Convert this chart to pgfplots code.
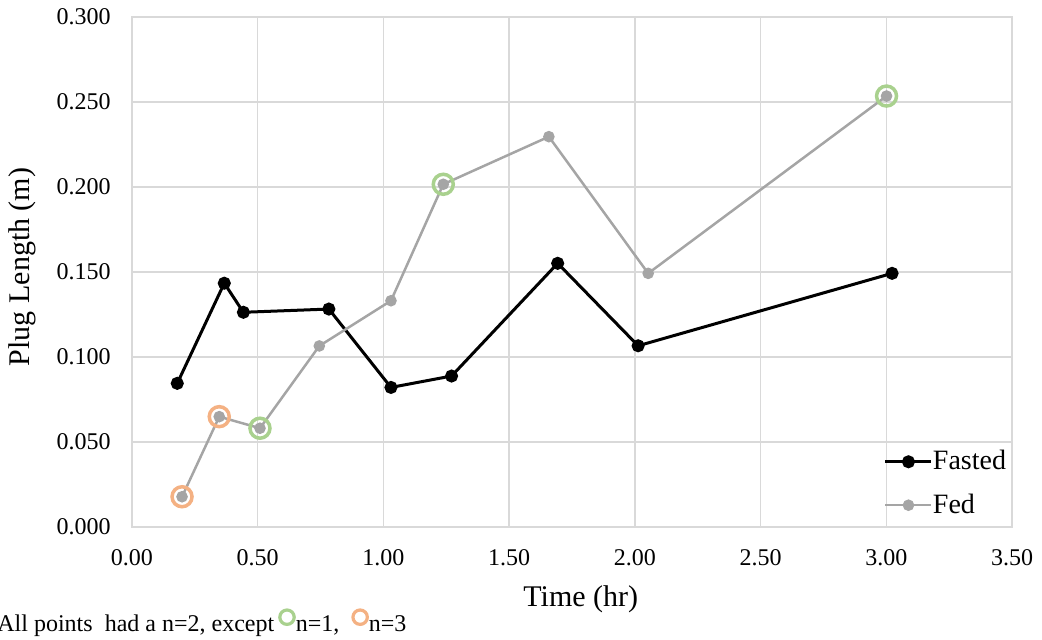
\documentclass[border=0pt]{standalone}
\usepackage{pgfplots}
\pgfplotsset{compat=1.18}
\usepackage{fontspec}
\setmainfont{Liberation Serif}

\definecolor{fedgray}{HTML}{A5A5A5}
\definecolor{gridgray}{HTML}{D9D9D9}
\definecolor{ringgreen}{HTML}{A9D18E}
\definecolor{ringorange}{HTML}{F4B183}

% small ring symbols used in the note under the chart
\newsavebox\ringgreenbox
\newsavebox\ringorangebox

\begin{document}%
\sbox\ringgreenbox{\tikz\draw[ringgreen, line width=1.6pt] (0,0) circle (3.6pt);}%
\sbox\ringorangebox{\tikz\draw[ringorange, line width=1.6pt] (0,0) circle (3.6pt);}%
\begin{tikzpicture}
\begin{axis}[
  at={(66pt,56.5pt)}, anchor=south west,
  scale only axis, width=440pt, height=255pt,
  xmin=0, xmax=3.5, ymin=0, ymax=0.3,
  xtick={0,0.5,1,1.5,2,2.5,3,3.5},
  ytick={0,0.05,0.1,0.15,0.2,0.25,0.3},
  scaled ticks=false,
  grid=major,
  major grid style={gridgray, line width=0.75pt},
  axis line style={gridgray, line width=0.75pt},
  major tick length=0pt, tick style={draw=none},
  xticklabel style={font=\fontsize{12}{14}\selectfont, anchor=north, inner sep=0pt, yshift=-11pt,
    /pgf/number format/.cd, fixed, fixed zerofill, precision=2, assume math mode=true},
  yticklabel style={font=\fontsize{12}{14}\selectfont, anchor=east, inner sep=0pt, xshift=-10.5pt,
    /pgf/number format/.cd, fixed, fixed zerofill, precision=3, assume math mode=true},
  xlabel={Time (hr)}, ylabel={Plug Length (m)},
  xlabel style={font=\fontsize{15}{17}\selectfont, at={(axis description cs:0.510,-0.141)}, anchor=center},
  ylabel style={font=\fontsize{15}{17}\selectfont, at={(axis description cs:-0.125,0.51)}, anchor=center},
  legend style={at={(rel axis cs:0.8545,0.0853)}, anchor=west, draw=none, fill=none,
    font=\fontsize{14}{16}\selectfont, inner sep=0pt, outer sep=0pt, row sep=10.5pt,
    nodes={inner sep=0pt}},
  legend cell align=left,
  /tikz/every even column/.append style={column sep=2pt},
  legend image code/.code={\draw[mark repeat=2,mark phase=2] plot coordinates {(0pt,0pt)(11.5pt,0pt)(23pt,0pt)};},
]
% sample counts: orange ring n=3, green ring n=1
\addplot[forget plot, only marks, mark=o, mark size=5pt, ringorange, mark options={line width=1.75pt}]
  coordinates {(0.199,0.0178) (0.347,0.0649)};
\addplot[forget plot, only marks, mark=o, mark size=5pt, ringgreen, mark options={line width=1.75pt}]
  coordinates {(0.509,0.0581) (1.238,0.2016) (3.001,0.2535)};

\addplot[black, line width=1.5pt, mark=*, mark size=2.5pt, mark options={solid, fill=black}]
  coordinates {(0.180,0.0845) (0.367,0.1434) (0.443,0.1263) (0.783,0.1282) (1.030,0.0821)
               (1.271,0.0888) (1.693,0.1551) (2.013,0.1066) (3.023,0.1492)};
\addlegendentry{Fasted}
\addplot[fedgray, line width=1.25pt, mark=*, mark size=2.25pt, mark options={solid, fill=fedgray}]
  coordinates {(0.199,0.0178) (0.347,0.0649) (0.509,0.0581) (0.745,0.1065) (1.030,0.1331)
               (1.238,0.2016) (1.658,0.2296) (2.053,0.1492) (3.001,0.2535)};
\addlegendentry{Fed}
\end{axis}
\node[anchor=base west, inner sep=0pt, font=\fontsize{12}{14}\selectfont] at (-1.5pt,4pt)
  {All points\ \ had a n=2, except\,\raisebox{3pt}{\usebox\ringgreenbox}n=1,\ \ \raisebox{3pt}{\usebox\ringorangebox}n=3};
% page frame
\pgfresetboundingbox
\useasboundingbox (0,0) rectangle (521pt,320pt);
\end{tikzpicture}%
\end{document}
